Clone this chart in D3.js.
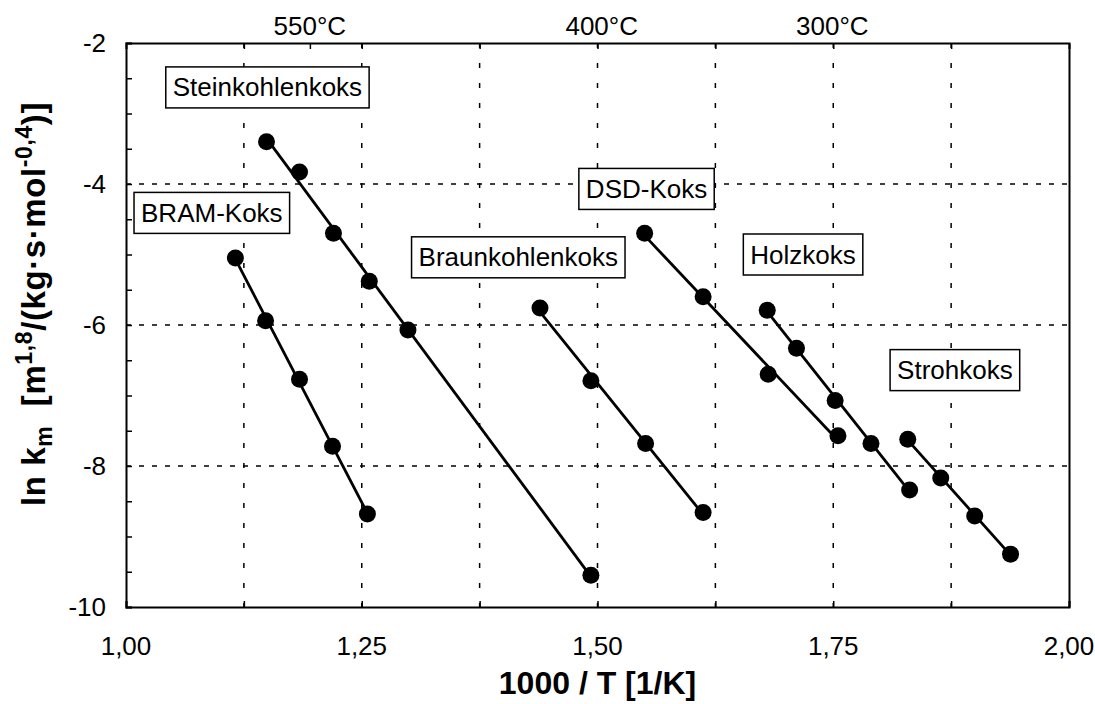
<!DOCTYPE html>
<html>
<head>
<meta charset="utf-8">
<script src="https://cdn.jsdelivr.net/npm/d3@7"></script>
<style>
  body { margin: 0; background: #fff; }
  text { font-family: "Liberation Sans", Arial, sans-serif; fill: #000; }
</style>
</head>
<body>
<script>
// 1000/T values and ln km
var bramX = [1.116, 1.148, 1.184, 1.219, 1.256];
var bramY = [-5.05, -5.94, -6.77, -7.72, -8.68];
var steinX = [1.149, 1.184, 1.220, 1.258, 1.299, 1.493];
var steinY = [-3.40, -3.83, -4.70, -5.38, -6.07, -9.55];
var braunX = [1.439, 1.493, 1.551, 1.612];
var braunY = [-5.76, -6.79, -7.68, -8.66];
var dsdX = [1.550, 1.612, 1.681, 1.755];
var dsdY = [-4.70, -5.60, -6.70, -7.57];
var holzX = [1.680, 1.711, 1.752, 1.790, 1.831];
var holzY = [-5.79, -6.33, -7.07, -7.68, -8.34];
var strohX = [1.829, 1.864, 1.900, 1.938];
var strohY = [-7.62, -8.17, -8.71, -9.25];

var seriesNames = ["BRAM-Koks", "Steinkohlenkoks", "Braunkohlenkoks", "DSD-Koks", "Holzkoks", "Strohkoks"];
var seriesX = [bramX, steinX, braunX, dsdX, holzX, strohX];
var seriesY = [bramY, steinY, braunY, dsdY, holzY, strohY];
// where each name box sits (centre, in data units)
var labelX = [1.091, 1.150, 1.416, 1.552, 1.718, 1.879];
var labelY = [-4.41, -2.63, -5.04, -4.07, -5.00, -6.64];

var xTicks = [1.00, 1.25, 1.50, 1.75, 2.00];
var xGrid = [1.125, 1.25, 1.375, 1.5, 1.625, 1.75, 1.875];
var yTicks = [-10, -8, -6, -4, -2];
var yGrid = [-8, -6, -4];
var tempLabels = ["550°C", "400°C", "300°C"];
var tempPos = [1.195, 1.5045, 1.749];

var W = 1095, H = 704;
var margin = {top: 43, right: 26, bottom: 97, left: 126};

var svg = d3.select("body").append("svg")
    .attr("width", W)
    .attr("height", H);

var x = d3.scaleLinear().domain([1, 2]).range([margin.left, W - margin.right]);
var y = d3.scaleLinear().domain([-10, -2]).range([H - margin.bottom, margin.top]);

var fmt = function (d) { return d3.format(".2f")(d).replace(".", ","); };

// grid
svg.append("g").selectAll("line")
    .data(xGrid)
    .enter().append("line")
    .attr("x1", function (d) { return x(d); })
    .attr("x2", function (d) { return x(d); })
    .attr("y1", y(-2))
    .attr("y2", y(-10))
    .attr("stroke", "#000")
    .attr("stroke-width", 1.5)
    .attr("stroke-dasharray", "5,15");

svg.append("g").selectAll("line")
    .data(yGrid)
    .enter().append("line")
    .attr("x1", x(1))
    .attr("x2", x(2))
    .attr("y1", function (d) { return y(d); })
    .attr("y2", function (d) { return y(d); })
    .attr("stroke", "#000")
    .attr("stroke-width", 1.5)
    .attr("stroke-dasharray", "5,8");

// axes
var xAxis = d3.axisBottom(x).tickValues(xGrid.concat([1, 2])).tickSize(-6).tickFormat("");
svg.append("g")
    .attr("transform", "translate(0," + y(-10) + ")")
    .call(xAxis);

svg.append("g")
    .selectAll("text")
    .data(xTicks)
    .enter().append("text")
    .attr("x", function (d) { return x(d); })
    .attr("y", y(-10) + 48)
    .attr("text-anchor", "middle")
    .style("font-size", "26px")
    .text(fmt);

var xTop = d3.axisTop(x).tickValues(xGrid.concat([tempPos[0]])).tickSize(-6).tickFormat("");
svg.append("g")
    .attr("transform", "translate(0," + y(-2) + ")")
    .call(xTop);

var yAxis = d3.axisLeft(y).ticks(16).tickSize(-6).tickFormat("");
svg.append("g")
    .attr("transform", "translate(" + x(1) + ",0)")
    .call(yAxis);

svg.append("g")
    .selectAll("text")
    .data(yTicks)
    .enter().append("text")
    .attr("x", x(1) - 20)
    .attr("y", function (d) { return y(d) + 9; })
    .attr("text-anchor", "end")
    .style("font-size", "26px")
    .text(function (d) { return d; });

svg.append("g")
    .attr("transform", "translate(" + x(2) + ",0)")
    .call(d3.axisRight(y).tickValues([]).tickSizeOuter(0));

svg.selectAll(".domain").attr("stroke", "#000").attr("stroke-width", 2);
svg.selectAll(".tick line").attr("stroke", "#000").attr("stroke-width", 1.5);

// top temperature labels
svg.append("g").selectAll("text")
    .data(tempLabels)
    .enter().append("text")
    .attr("x", function (d, i) { return x(tempPos[i]); })
    .attr("y", 35)
    .attr("text-anchor", "middle")
    .style("font-size", "26px")
    .text(function (d) { return d; });

// axis titles
svg.append("text")
    .attr("x", x(1.5))
    .attr("y", 694)
    .attr("text-anchor", "middle")
    .style("font-size", "32px")
    .style("font-weight", "bold")
    .text("1000 / T [1/K]");

var yt = svg.append("text")
    .attr("transform", "translate(45," + (y(-6) - 21) + ") rotate(-90)")
    .attr("text-anchor", "middle")
    .style("font-size", "33px")
    .style("font-weight", "bold")
    .style("letter-spacing", "0.6px");
yt.append("tspan").text("ln k");
yt.append("tspan").attr("dy", 7).style("font-size", "23px").text("m");
yt.append("tspan").attr("dy", -7).text("\u00a0 [m");
yt.append("tspan").attr("dy", -13).style("font-size", "23px").text("1,8");
yt.append("tspan").attr("dy", 13).text("/(kg·s·mol");
yt.append("tspan").attr("dy", -13).style("font-size", "23px").text("-0,4");
yt.append("tspan").attr("dy", 13).text(")]");

// least-squares line through each series, drawn over its x range
function fit(xs, ys) {
    var mx = d3.mean(xs), my = d3.mean(ys);
    var sxy = d3.sum(xs, function (v, j) { return (v - mx) * (ys[j] - my); });
    var sxx = d3.sum(xs, function (v) { return (v - mx) * (v - mx); });
    var b = sxy / sxx;
    return function (v) { return my + b * (v - mx); };
}

var line = d3.line()
    .x(function (d) { return x(d[0]); })
    .y(function (d) { return y(d[1]); });

seriesX.forEach(function (xs, i) {
    var ys = seriesY[i];
    var f = fit(xs, ys);
    var ext = d3.extent(xs);
    var pts = xs.map(function (v, j) { return [v, ys[j]]; });
    var g = svg.append("g").attr("class", "series");
    g.append("path")
        .datum([[ext[0], f(ext[0])], [ext[1], f(ext[1])]])
        .attr("d", line)
        .attr("fill", "none")
        .attr("stroke", "#000")
        .attr("stroke-width", 2.8);
    g.selectAll("circle")
        .data(pts)
        .enter().append("circle")
        .attr("cx", function (d) { return x(d[0]); })
        .attr("cy", function (d) { return y(d[1]); })
        .attr("r", 8.5)
        .attr("fill", "#000");
});

// name boxes
seriesNames.forEach(function (name, i) {
    var g = svg.append("g")
        .attr("transform", "translate(" + x(labelX[i]) + "," + y(labelY[i]) + ")");
    var t = g.append("text")
        .attr("text-anchor", "middle")
        .attr("y", 9)
        .style("font-size", "26px")
        .text(name);
    var bb = t.node().getBBox();
    g.insert("rect", "text")
        .attr("x", bb.x - 7)
        .attr("y", -20.5)
        .attr("width", bb.width + 14)
        .attr("height", 41)
        .attr("fill", "#fff")
        .attr("stroke", "#000")
        .attr("stroke-width", 1.5);
});
</script>
</body>
</html>
